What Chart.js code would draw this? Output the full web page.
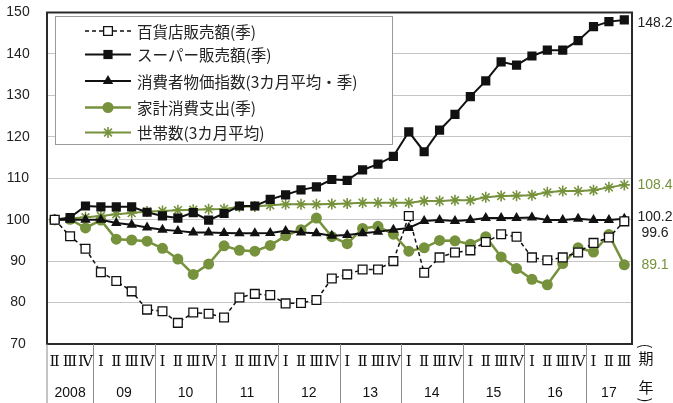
<!DOCTYPE html>
<html lang="ja">
<head>
<meta charset="utf-8">
<script src="https://cdn.jsdelivr.net/npm/chart.js@4.4.0/dist/chart.umd.min.js"></script>
<style>
  html, body { margin: 0; padding: 0; background: #fff; }
  #wrap { width: 673px; height: 403px; position: relative; }
</style>
</head>
<body>
<div id="wrap"><canvas id="chart"></canvas></div>
<script>
  // 横軸（四半期）
  const quarters = ['Ⅱ', 'Ⅲ', 'Ⅳ',
    'Ⅰ', 'Ⅱ', 'Ⅲ', 'Ⅳ', 'Ⅰ', 'Ⅱ', 'Ⅲ', 'Ⅳ', 'Ⅰ', 'Ⅱ', 'Ⅲ', 'Ⅳ', 'Ⅰ', 'Ⅱ', 'Ⅲ', 'Ⅳ',
    'Ⅰ', 'Ⅱ', 'Ⅲ', 'Ⅳ', 'Ⅰ', 'Ⅱ', 'Ⅲ', 'Ⅳ', 'Ⅰ', 'Ⅱ', 'Ⅲ', 'Ⅳ', 'Ⅰ', 'Ⅱ', 'Ⅲ', 'Ⅳ',
    'Ⅰ', 'Ⅱ', 'Ⅲ'];
  const years = ['2008', '09', '10', '11', '12', '13', '14', '15', '16', '17'];
  const quartersPerYear = [3, 4, 4, 4, 4, 4, 4, 4, 4, 3];
  const yTicks = [70, 80, 90, 100, 110, 120, 130, 140, 150];

  // 系列
  const deptStore = [100, 96, 93, 87.3, 85.2, 82.7, 78.3, 77.9, 75.1, 77.6, 77.3, 76.4, 81.2, 82.1, 81.8, 79.8, 79.9, 80.6, 85.8,
    86.8, 88.0, 88.0, 90.0, 100.9, 87.2, 90.9, 92.1, 92.6, 94.6, 96.5, 95.9, 90.9, 90.2, 90.9, 92.1, 94.4, 95.7, 99.6];
  const superMarket = [100, 100.5, 103.3, 103.1, 103.1, 103.1, 101.8, 100.9, 100.4, 101.7, 99.9, 101.5, 103.3, 103.3, 104.9, 106.0, 107.2, 107.9, 109.7,
    109.5, 112.0, 113.4, 115.3, 121.2, 116.4, 121.6, 125.4, 129.7, 133.5, 138.1, 137.3, 139.5, 140.9, 140.9, 143.2, 146.6, 147.8, 148.2];
  const cpi = [100, 100, 100, 100, 99.2, 98.8, 98.1, 97.6, 97.3, 96.9, 96.9, 96.8, 96.7, 96.7, 96.8, 97.3, 96.9, 96.7, 96.1,
    96.3, 96.7, 97.1, 97.6, 98.0, 99.7, 99.9, 99.7, 99.9, 100.4, 100.4, 100.4, 100.5, 99.9, 99.9, 100.2, 99.9, 99.9, 100.2];
  const spending = [100, 100.1, 98.0, 99.9, 95.3, 95.1, 94.8, 93.1, 90.5, 86.8, 89.3, 93.7, 92.6, 92.4, 93.8, 96.1, 97.6, 100.4, 95.9,
    94.2, 97.9, 98.4, 96.5, 92.4, 93.2, 95.0, 94.9, 94.1, 95.9, 91.0, 88.2, 85.6, 84.3, 89.4, 93.2, 92.2, 96.4, 89.1];
  const households = [100, 100.3, 100.6, 100.9, 101.3, 101.6, 102.0, 102.1, 102.3, 102.4, 102.5, 102.6, 103.1, 103.2, 103.5, 103.7, 103.7, 103.7, 103.8,
    103.9, 104.1, 104.1, 104.1, 104.1, 104.5, 104.5, 104.7, 104.7, 105.4, 105.7, 105.8, 105.9, 106.6, 106.9, 106.9, 107.1, 107.8, 108.4];

  const BLACK = '#111';
  const GREEN = '#76923c';
  const JP_FONT = '"Noto Sans CJK JP", "Noto Sans", sans-serif';
  const NUM_FONT = '"Liberation Sans", Arial, sans-serif';

  const chartData = {
    labels: quarters,
    datasets: [{
        label: '百貨店販売額(季)',
        data: deptStore,
        borderColor: BLACK,
        backgroundColor: '#fff',
        borderWidth: 1.5,
        borderDash: [4, 3],
        pointStyle: 'rect',
        pointRadius: 6.2,
        pointBorderWidth: 1.3,
        pointBorderColor: BLACK,
        pointBackgroundColor: '#fff',
        labelDy: 12,
      },
      {
        label: 'スーパー販売額(季)',
        data: superMarket,
        borderColor: BLACK,
        backgroundColor: BLACK,
        borderWidth: 2,
        pointStyle: 'rect',
        pointRadius: 6.5,
        pointBorderWidth: 0,
        labelDy: 3,
      },
      {
        label: '消費者物価指数(3カ月平均・季)',
        data: cpi,
        borderColor: BLACK,
        backgroundColor: BLACK,
        borderWidth: 2,
        pointStyle: 'triangle',
        pointRadius: 6,
        pointBorderWidth: 0,
        labelDy: -2,
      },
      {
        label: '家計消費支出(季)',
        data: spending,
        borderColor: GREEN,
        backgroundColor: GREEN,
        borderWidth: 2.5,
        pointStyle: 'circle',
        pointRadius: 5.5,
        pointBorderWidth: 0,
        labelDy: 0,
        labelColor: GREEN,
      },
      {
        label: '世帯数(3カ月平均)',
        data: households,
        borderColor: GREEN,
        backgroundColor: GREEN,
        borderWidth: 2,
        pointStyle: 'star',
        pointRadius: 5.5,
        pointBorderWidth: 1.6,
        labelDy: 0,
        labelColor: GREEN,
      },
    ]
  };

  // 枠線・目盛り・凡例・横軸ラベル・最終値
  const decorations = {
    id: 'decorations',
    beforeDatasetsDraw(chart) {
      const ctx = chart.ctx;
      const a = chart.chartArea;
      const ys = chart.scales.y;
      ctx.save();
      ctx.strokeStyle = '#2a2a2a';
      ctx.lineWidth = 2;
      ctx.strokeRect(a.left, a.top, a.right - a.left, a.bottom - a.top);
      // 縦軸ラベル
      ctx.fillStyle = '#222';
      ctx.font = '14px ' + NUM_FONT;
      ctx.textAlign = 'center';
      ctx.textBaseline = 'middle';
      yTicks.forEach((v) => {
        ctx.fillText(String(v), 18, ys.getPixelForValue(v));
      });
      ctx.restore();
    },
    afterDatasetsDraw(chart) {
      const ctx = chart.ctx;
      const a = chart.chartArea;
      const xs = chart.scales.x;
      const ys = chart.scales.y;
      const H = chart.height;
      ctx.save();

      // 凡例
      const box = { x: 55, y: 16, w: 337, h: 128 };
      ctx.fillStyle = '#fff';
      ctx.fillRect(box.x, box.y, box.w, box.h);
      ctx.strokeStyle = '#9a9a9a';
      ctx.lineWidth = 1;
      ctx.strokeRect(box.x + 0.5, box.y + 0.5, box.w, box.h);
      const rowY = [31, 54.5, 81, 107.5, 132.5];
      chart.data.datasets.forEach((ds, i) => {
        const y = rowY[i];
        ctx.save();
        ctx.strokeStyle = ds.borderColor;
        ctx.lineWidth = ds.borderWidth;
        ctx.setLineDash(ds.borderDash || []);
        ctx.beginPath();
        ctx.moveTo(85, y);
        ctx.lineTo(131, y);
        ctx.stroke();
        ctx.setLineDash([]);
        ctx.fillStyle = ds.pointBackgroundColor || ds.backgroundColor;
        ctx.strokeStyle = ds.pointBorderColor || ds.borderColor;
        ctx.lineWidth = ds.pointBorderWidth;
        Chart.helpers.drawPoint(ctx, {
          pointStyle: ds.pointStyle, radius: ds.pointRadius, rotation: 0, borderWidth: ds.pointBorderWidth
        }, 108, y);
        ctx.restore();
        ctx.fillStyle = '#222';
        ctx.font = '15.5px ' + JP_FONT;
        ctx.textAlign = 'left';
        ctx.textBaseline = 'middle';
        ctx.fillText(ds.label, 137, y + 1);
      });

      // 横軸
      ctx.strokeStyle = '#8c8c8c';
      ctx.lineWidth = 1;
      let start = 0;
      const bounds = [];
      quartersPerYear.forEach((n) => {
        bounds.push([start, start + n - 1]);
        start += n;
      });
      ctx.beginPath();
      ctx.moveTo(a.left, a.bottom);
      ctx.lineTo(a.left, H);
      bounds.forEach((b, i) => {
        if (i === bounds.length - 1) return;
        const px = Math.round(xs.getPixelForValue(b[1] + 0.5)) + 0.5;
        ctx.moveTo(px, a.bottom);
        ctx.lineTo(px, H);
      });
      ctx.stroke();

      ctx.fillStyle = '#111';
      ctx.textAlign = 'center';
      ctx.textBaseline = 'middle';
      ctx.font = '15px "DejaVu Serif", serif';
      quarters.forEach((q, i) => {
        ctx.fillText(q, xs.getPixelForValue(i), 362);
      });
      ctx.font = '14px ' + NUM_FONT;
      years.forEach((yr, i) => {
        const b = bounds[i];
        ctx.fillText(yr, (xs.getPixelForValue(b[0]) + xs.getPixelForValue(b[1])) / 2, 393);
      });

      // (期 年)
      ctx.font = '15px ' + JP_FONT;
      ctx.fillText('期', 646, 358);
      ctx.fillText('年', 646, 387);
      [['(', 346], [')', 400]].forEach(([p, py]) => {
        ctx.save();
        ctx.translate(646, py);
        ctx.rotate(Math.PI / 2);
        ctx.fillText(p, 0, 0);
        ctx.restore();
      });

      // 最終値
      ctx.font = '14px ' + NUM_FONT;
      chart.data.datasets.forEach((ds) => {
        const last = ds.data[ds.data.length - 1];
        const y = ys.getPixelForValue(last) + ds.labelDy;
        ctx.fillStyle = ds.labelColor || '#222';
        ctx.fillText(last.toFixed(1), 655, y);
      });
      ctx.restore();
    }
  };

  const config = {
    type: 'line',
    data: chartData,
    options: {
      responsive: true,
      maintainAspectRatio: false,
      animation: false,
      layout: { padding: { top: 12.5, right: 41, left: 0, bottom: 0 } },
      plugins: {
        legend: { display: false },
        tooltip: { enabled: false },
      },
      elements: { line: { tension: 0 } },
      scales: {
        x: {
          offset: true,
          grid: { display: false, drawTicks: false },
          border: { display: false },
          ticks: { display: false },
          afterFit(scale) { scale.height = 59; },
        },
        y: {
          min: yTicks[0],
          max: yTicks[yTicks.length - 1],
          afterBuildTicks(scale) { scale.ticks = yTicks.map(v => ({ value: v })); },
          grid: { color: '#c4c4c4', lineWidth: 1, drawTicks: false },
          border: { display: false },
          ticks: { display: false },
          afterFit(scale) { scale.width = 47; },
        }
      }
    },
    plugins: [decorations],
  };

  new Chart(document.getElementById('chart'), config);
</script>
</body>
</html>
